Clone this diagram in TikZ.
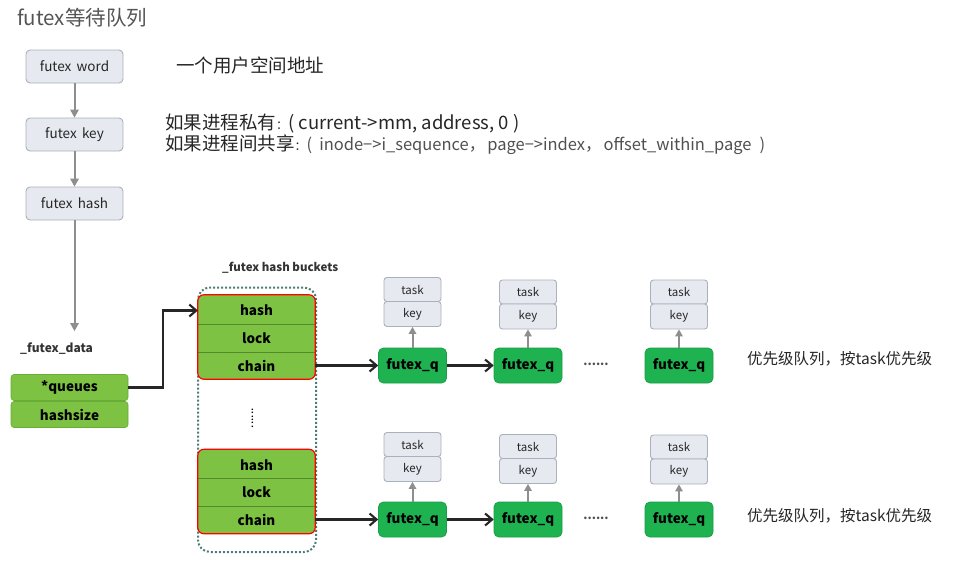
\documentclass[tikz,border=0pt]{standalone}
\usepackage{fontspec}
\setmainfont{Noto Sans CJK SC}
\definecolor{boxgray}{HTML}{E6E9F0}
\definecolor{boxline}{HTML}{AAB0BC}
\definecolor{lgreen}{HTML}{7DC242}
\definecolor{lgreenline}{HTML}{68AD38}
\definecolor{dgreen}{HTML}{1EB251}
\definecolor{dgreenline}{HTML}{17A046}
\definecolor{arrgray}{HTML}{8E8E8E}
\definecolor{dotframe}{HTML}{4F7C78}
\definecolor{titlegray}{HTML}{555555}
\definecolor{textgray}{HTML}{505050}
\tikzset{
  graybox/.style={draw=boxline, fill=boxgray, rounded corners=4pt, line width=0.9pt,
    minimum width=97pt, minimum height=33pt, inner sep=0pt,
    font=\fontsize{13.5}{15}\selectfont, text=black!85},
  smallbox/.style={draw=boxline, fill=boxgray, rounded corners=3pt, line width=0.9pt,
    minimum width=57pt, inner sep=0pt, font=\fontsize{11.5}{13}\selectfont, text=black!85},
  fqbox/.style={draw=dgreenline, fill=dgreen, rounded corners=5pt, line width=0.8pt,
    minimum width=68pt, minimum height=35pt, inner sep=0pt,
    font=\bfseries\fontsize{13.5}{15}\selectfont},
  databox/.style={draw=lgreenline, fill=lgreen, rounded corners=3pt, line width=0.6pt,
    minimum width=117pt, minimum height=26pt, inner sep=0pt,
    font=\bfseries\fontsize{13.5}{15}\selectfont},
  bucketframe/.style={fill=lgreen, rounded corners=6pt,
    minimum width=117pt, minimum height=84pt, inner sep=0pt},
  cell/.style={minimum width=117pt, minimum height=27pt, inner sep=0pt,
    font=\bfseries\fontsize{13.5}{15}\selectfont},
  sepline/.style={draw=lgreenline!80!black, line width=0.5pt},
  gline/.style={draw=arrgray, line width=2pt, shorten >=6pt},
  gtip/.style={fill=arrgray},
  bline/.style={draw=black!85, line width=2.1pt, shorten >=1.5pt},
  btip/.style={draw=black!85, line width=2.1pt, line join=miter, line cap=butt},
  note/.style={anchor=west, inner sep=0pt, font=\fontsize{18.5}{21}\selectfont, text=black!85},
}
% arrow heads drawn at a node anchor (y axis points down)
\newcommand{\myrtip}[1]{\draw[btip] ([shift={(-8.5,-6)}]#1) -- ([shift={(-1.5,0)}]#1) -- ([shift={(-8.5,6)}]#1);}
\newcommand{\mydtip}[1]{\fill[gtip] ([shift={(-4.5,-8)}]#1) -- (#1) -- ([shift={(4.5,-8)}]#1) -- cycle;}
\newcommand{\myutip}[1]{\fill[gtip] ([shift={(-4,7)}]#1) -- (#1) -- ([shift={(4,7)}]#1) -- cycle;}
\begin{document}
\begin{tikzpicture}[x=1pt,y=-1pt]
\useasboundingbox (0,0) rectangle (977,568);

% title
\node[anchor=west, inner sep=0pt, text=titlegray, font=\fontsize{20.5}{23}\selectfont] (title) at (17,18) {futex等待队列};

% left chain
\node[graybox] (fw) at (74.5,66.5) {futex\, word};
\node[graybox] (fk) at (74.5,134.5) {futex\, key};
\node[graybox] (fh) at (74.5,203.5) {futex\, hash};
\coordinate (fdtop) at (74.5,331);
\draw[gline] (fw.south) -- (fk.north); \mydtip{fk.north}
\draw[gline] (fk.south) -- (fh.north); \mydtip{fh.north}
\draw[gline] (fh.south) -- (fdtop); \mydtip{fdtop}

% notes
\node[note] (n1) at (176,65) {一个用户空间地址};
\node[note] (n2) at (165,124) {如果进程私有{\fontsize{12}{12}\selectfont ：}( current->mm, address, 0 )};
\node[note] (n3) at (165,145) {如果进程间共享{\fontsize{12}{12}\selectfont ：}{\color{textgray}\fontsize{16.5}{18}\selectfont (\hspace{7pt}inode−>i\_sequence，\hspace{2pt}page−>index，\hspace{2pt}offset\_within\_page\hspace{8pt})}};

% futex data
\node[anchor=west, inner sep=0pt, font=\bfseries\fontsize{12}{14}\selectfont, text=black!80] (fdl) at (20,349) {\_futex\_data};
\node[databox] (q) at (69.5,387.5) {*queues};
\node[databox] (hs) at (69.5,414.5) {hashsize};

% bucket container
\node[anchor=west, inner sep=0pt, font=\bfseries\fontsize{11.5}{13}\selectfont, text=black!80] (hbl) at (222,268) {\_futex hash buckets};
\draw[dotframe, line width=2pt, dotted, rounded corners=12pt] (198,287.5) rectangle (316,552);

% bucket 1
\node[bucketframe] (b1) at (256.5,337) {};
\node[cell] (h1) at (256.5,310.5) {hash};
\node[cell] (l1) at (256.5,338.5) {lock};
\node[cell] (c1) at (256.5,365.5) {chain};
\draw[sepline] (h1.south west) -- (h1.south east);
\draw[sepline] (l1.south west) -- (l1.south east);
\draw[draw=red, rounded corners=6pt, line width=1.2pt] (b1.north west) rectangle (b1.south east);

% dots vertical
\node[inner sep=0pt, font=\fontsize{12}{12}\selectfont] (vd) at (252.5,418) {\rotatebox{90}{......}};

% bucket 2
\node[bucketframe] (b2) at (256.5,491.5) {};
\node[cell] (h2) at (256.5,465) {hash};
\node[cell] (l2) at (256.5,492.5) {lock};
\node[cell] (c2) at (256.5,519.5) {chain};
\draw[sepline] (h2.south west) -- (h2.south east);
\draw[sepline] (l2.south west) -- (l2.south east);
\draw[draw=red, rounded corners=6pt, line width=1.2pt] (b2.north west) rectangle (b2.south east);

% queues arrow
\draw[bline] (q.east) -- ++(35,0) |- (h1.west); \myrtip{h1.west}

% row 1
\node[fqbox] (fq11) at (412.5,365.5) {futex\_q};
\node[fqbox] (fq12) at (528,365.5) {futex\_q};
\node[fqbox] (fq13) at (679,365.5) {futex\_q};
\node[inner sep=0pt, font=\bfseries\fontsize{12}{12}\selectfont, text=black!70] (d1) at (596,364) {......};
\node[smallbox, minimum height=24pt] (t11) at (412.5,289.5) {task};
\node[smallbox, minimum height=25pt] (k11) at (412.5,314) {key};
\node[smallbox, minimum height=24pt] (t12) at (528,292) {task};
\node[smallbox, minimum height=25pt] (k12) at (528,316.5) {key};
\node[smallbox, minimum height=24pt] (t13) at (679,292) {task};
\node[smallbox, minimum height=25pt] (k13) at (679,316.5) {key};
\draw[gline] (fq11.north) -- (k11.south); \myutip{k11.south}
\draw[gline] (fq12.north) -- (k12.south); \myutip{k12.south}
\draw[gline] (fq13.north) -- (k13.south); \myutip{k13.south}
\draw[bline] (c1.east) -- (fq11.west); \myrtip{fq11.west}
\draw[bline] (fq11.east) -- (fq12.west); \myrtip{fq12.west}
\node[note, font=\fontsize{15.5}{18}\selectfont] (p1) at (747,359) {优先级队列，按task优先级};

% row 2
\node[fqbox] (fq21) at (412.5,519.5) {futex\_q};
\node[fqbox] (fq22) at (528,519.5) {futex\_q};
\node[fqbox] (fq23) at (679,519.5) {futex\_q};
\node[inner sep=0pt, font=\bfseries\fontsize{12}{12}\selectfont, text=black!70] (d2) at (596,518) {......};
\node[smallbox, minimum height=24pt] (t21) at (412.5,444.5) {task};
\node[smallbox, minimum height=25pt] (k21) at (412.5,469) {key};
\node[smallbox, minimum height=24pt] (t22) at (528,446.5) {task};
\node[smallbox, minimum height=25pt] (k22) at (528,471) {key};
\node[smallbox, minimum height=24pt] (t23) at (679,447) {task};
\node[smallbox, minimum height=25pt] (k23) at (679,471.5) {key};
\draw[gline] (fq21.north) -- (k21.south); \myutip{k21.south}
\draw[gline] (fq22.north) -- (k22.south); \myutip{k22.south}
\draw[gline] (fq23.north) -- (k23.south); \myutip{k23.south}
\draw[bline] (c2.east) -- (fq21.west); \myrtip{fq21.west}
\draw[bline] (fq21.east) -- (fq22.west); \myrtip{fq22.west}
\node[note, font=\fontsize{15.5}{18}\selectfont] (p2) at (747,516) {优先级队列，按task优先级};
\end{tikzpicture}
\end{document}
